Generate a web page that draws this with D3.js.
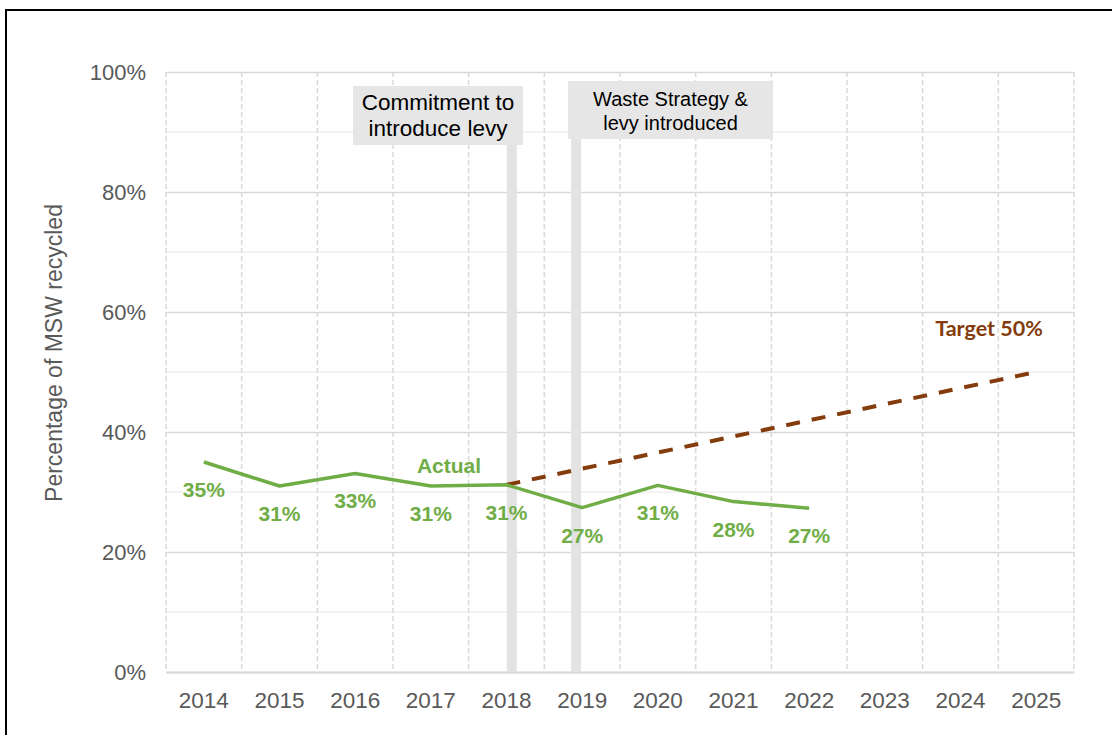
<!DOCTYPE html>
<html>
<head>
<meta charset="utf-8">
<script src="https://cdn.jsdelivr.net/npm/d3@7"></script>
<style>
  body { margin: 0; background: #fff; }
  svg { display: block; }
</style>
</head>
<body>
<div id="chart"></div>
<script>
// chart data
var years = [2014, 2015, 2016, 2017, 2018, 2019, 2020, 2021, 2022, 2023, 2024, 2025];
var actualYears = [2014, 2015, 2016, 2017, 2018, 2019, 2020, 2021, 2022];
var actualValues = [35, 31, 33.1, 31, 31.2, 27.4, 31.1, 28.4, 27.3];
var targetYears = [2018, 2025];
var targetValues = [31.2, 50];
var yTicks = [0, 20, 40, 60, 80, 100];
var yMinorTicks = [10, 30, 50, 70, 90];
var events = [
    { at: 2018.07, lines: ["Commitment to", "introduce levy"] },
    { at: 2018.92, lines: ["Waste Strategy &", "levy introduced"] }
];

var drawChart = (function () {
    const width = 1112, height = 735;
    const margin = { left: 166, right: 38, top: 72, bottom: 63 };
    const green = "#70ad47", brown = "#843c0c", grey = "#595959";
    const font = "'Liberation Sans', Arial, sans-serif";

    var svg = d3.select("#chart").append("svg")
        .attr("width", width)
        .attr("height", height);

    // outer frame (runs off the right and bottom edge)
    svg.append("rect")
        .attr("x", 6).attr("y", 10)
        .attr("width", 1200).attr("height", 800)
        .attr("fill", "none")
        .attr("stroke", "#000")
        .attr("stroke-width", 2);

    var x = d3.scaleBand()
        .domain(years)
        .range([margin.left, width - margin.right])
        .padding(0);

    var bw = x.bandwidth();
    var xPos = d3.scaleLinear()
        .domain([years[0], years[years.length - 1]])
        .range([x(years[0]) + bw / 2, x(years[years.length - 1]) + bw / 2]);

    var y = d3.scaleLinear()
        .domain([0, 100])
        .range([height - margin.bottom, margin.top]);

    var plotLeft = margin.left, plotRight = width - margin.right;

    // minor horizontal gridlines
    svg.append("g").selectAll("line")
        .data(yMinorTicks)
        .enter().append("line")
        .attr("x1", plotLeft).attr("x2", plotRight)
        .attr("y1", function (d) { return y(d) }).attr("y2", function (d) { return y(d) })
        .attr("stroke", "#efefef")
        .attr("stroke-width", 1.5);

    // major horizontal gridlines + labels
    var yAxis = svg.append("g")
        .attr("transform", "translate(" + plotLeft + ",0)")
        .call(d3.axisLeft(y)
            .tickValues(yTicks)
            .tickSize(-(plotRight - plotLeft))
            .tickPadding(20)
            .tickFormat(function (d) { return d + "%" }));
    yAxis.select(".domain").remove();
    yAxis.selectAll(".tick line")
        .attr("stroke", "#d9d9d9")
        .attr("stroke-width", 1.5);
    yAxis.selectAll(".tick text")
        .attr("fill", grey)
        .attr("font-family", font)
        .attr("font-size", 22);

    // dashed vertical gridlines at category boundaries
    var bounds = years.map(function (d) { return x(d) }).concat([plotRight]);
    svg.append("g").selectAll("line")
        .data(bounds)
        .enter().append("line")
        .attr("x1", function (d) { return d }).attr("x2", function (d) { return d })
        .attr("y1", y(100)).attr("y2", y(0))
        .attr("stroke", "#d9d9d9")
        .attr("stroke-width", 1.5)
        .attr("stroke-dasharray", "5,3");

    // x axis
    var xAxis = svg.append("g")
        .attr("transform", "translate(0," + y(0) + ")")
        .call(d3.axisBottom(x).tickSize(0).tickPadding(20));
    xAxis.select(".domain")
        .attr("stroke", "#d9d9d9")
        .attr("stroke-width", 2);
    xAxis.selectAll(".tick text")
        .attr("fill", grey)
        .attr("font-family", font)
        .attr("font-size", 22.5);

    // y axis title
    svg.append("text")
        .attr("transform", "translate(62,353) rotate(-90)")
        .attr("text-anchor", "middle")
        .attr("fill", grey)
        .attr("font-family", font)
        .attr("font-size", 23)
        .text("Percentage of MSW recycled");

    // event bars
    svg.append("g").selectAll("rect")
        .data(events)
        .enter().append("rect")
        .attr("x", function (d) { return xPos(d.at) - 5 })
        .attr("y", function (d, i) { return i == 0 ? 145 : 139 })
        .attr("width", 10)
        .attr("height", function (d, i) { return y(0) - (i == 0 ? 145 : 139) })
        .attr("fill", "#e3e3e3");

    // event boxes
    var boxes = [
        { x: 353, y: 86, w: 170, h: 59, size: 22.5, base: 110, gap: 26 },
        { x: 568, y: 81, w: 205, h: 58, size: 20, base: 106, gap: 24 }
    ];
    boxes.forEach(function (b, i) {
        svg.append("rect")
            .attr("x", b.x).attr("y", b.y)
            .attr("width", b.w).attr("height", b.h)
            .attr("fill", "#e6e6e6");
        svg.append("text")
            .attr("x", b.x + b.w / 2)
            .attr("y", b.base)
            .attr("text-anchor", "middle")
            .attr("fill", "#000")
            .attr("font-family", font)
            .attr("font-size", b.size)
            .selectAll("tspan")
            .data(events[i].lines)
            .enter().append("tspan")
            .attr("x", b.x + b.w / 2)
            .attr("dy", function (d, j) { return j == 0 ? 0 : b.gap })
            .text(function (d) { return d });
    });

    // target line
    var line = d3.line()
        .x(function (d) { return xPos(d[0]) })
        .y(function (d) { return y(d[1]) });

    svg.append("path")
        .datum(d3.zip(targetYears, targetValues))
        .attr("d", line)
        .attr("fill", "none")
        .attr("stroke", brown)
        .attr("stroke-width", 4)
        .attr("stroke-dasharray", "14,12");

    // actual line
    svg.append("path")
        .datum(d3.zip(actualYears, actualValues))
        .attr("d", line)
        .attr("fill", "none")
        .attr("stroke", green)
        .attr("stroke-width", 3.5)
        .attr("stroke-linejoin", "round");

    // data labels below points
    svg.append("g").selectAll("text")
        .data(d3.zip(actualYears, actualValues))
        .enter().append("text")
        .attr("x", function (d) { return xPos(d[0]) })
        .attr("y", function (d) { return y(d[1]) + 35 })
        .attr("text-anchor", "middle")
        .attr("fill", green)
        .attr("font-family", font)
        .attr("font-weight", "bold")
        .attr("font-size", 21)
        .text(function (d) { return Math.round(d[1]) + "%" });

    svg.append("text")
        .attr("x", 449).attr("y", 473)
        .attr("text-anchor", "middle")
        .attr("fill", green)
        .attr("font-family", font)
        .attr("font-weight", "bold")
        .attr("font-size", 21)
        .text("Actual");

    svg.append("text")
        .attr("x", 989).attr("y", 336)
        .attr("text-anchor", "middle")
        .attr("fill", brown)
        .attr("font-family", "Lato, sans-serif")
        .attr("font-weight", "bold")
        .attr("font-size", 21.5)
        .text("Target 50%");
}());
</script>
</body>
</html>
